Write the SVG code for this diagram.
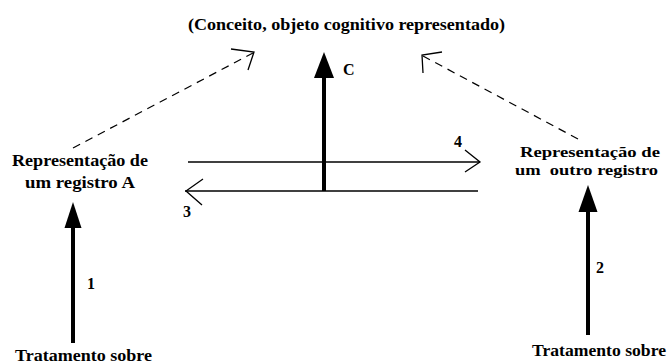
<svg xmlns="http://www.w3.org/2000/svg" width="669" height="364" viewBox="0 0 669 364">
<style>
text{fill:#000}
.thin{stroke:#000;stroke-width:1.3;fill:none}
.dash{stroke:#000;stroke-width:1.2;fill:none;stroke-dasharray:8 6}
.thick{stroke:#000;stroke-width:4;fill:none}
.head{fill:#000;stroke:none}
</style>
<rect width="669" height="364" fill="#fff"/>
<g font-family="Liberation Serif, DejaVu Serif, serif" font-weight="bold" font-size="16.5">
<g id="concept">
<text x="188" y="30" textLength="317" lengthAdjust="spacingAndGlyphs">(Conceito, objeto cognitivo representado)</text>
</g>
<g id="regA">
<text x="12" y="166" textLength="136" lengthAdjust="spacingAndGlyphs">Representação de</text>
<text x="25" y="188" textLength="110" lengthAdjust="spacingAndGlyphs">um registro A</text>
</g>
<g id="regB" font-size="15">
<text x="520" y="157" textLength="140" lengthAdjust="spacingAndGlyphs">Representação de</text>
<text x="515" y="175" textLength="143" lengthAdjust="spacingAndGlyphs" xml:space="preserve">um  outro registro</text>
</g>
<g id="tratA">
<text x="15" y="361" textLength="137" lengthAdjust="spacingAndGlyphs">Tratamento sobre</text>
</g>
<g id="tratB">
<text x="532" y="356" textLength="134" lengthAdjust="spacingAndGlyphs">Tratamento sobre</text>
</g>
</g>
<g id="connectors" font-family="Liberation Serif, DejaVu Serif, serif" font-weight="bold" font-size="16">
<path class="dash" d="M73,148 L253,53"/>
<path class="thin" d="M231,49 L254,52 L248,70"/>
<path class="dash" d="M578,139 L423,56"/>
<path class="thin" d="M442,52 L422,55 L423,73"/>
<path class="thick" d="M324,191 L324,76"/>
<path class="head" d="M324,52 L334,78 L314,78 Z"/>
<text x="343" y="75">C</text>
<path class="thin" d="M188,162 L480,162"/>
<path class="thin" d="M465,150 L480,162 L465,172"/>
<text x="454" y="147">4</text>
<path class="thin" d="M185,191 L478,191"/>
<path class="thin" d="M203,179 L186,191 L202,205"/>
<text x="183" y="217">3</text>
<path class="thick" d="M73,343 L73,226"/>
<path class="head" d="M73,202 L81.5,228 L64.5,228 Z"/>
<text x="87" y="289">1</text>
<path class="thick" d="M588,335 L588,210"/>
<path class="head" d="M588,185 L597.5,212 L578.5,212 Z"/>
<text x="596" y="273">2</text>
</g>
</svg>
